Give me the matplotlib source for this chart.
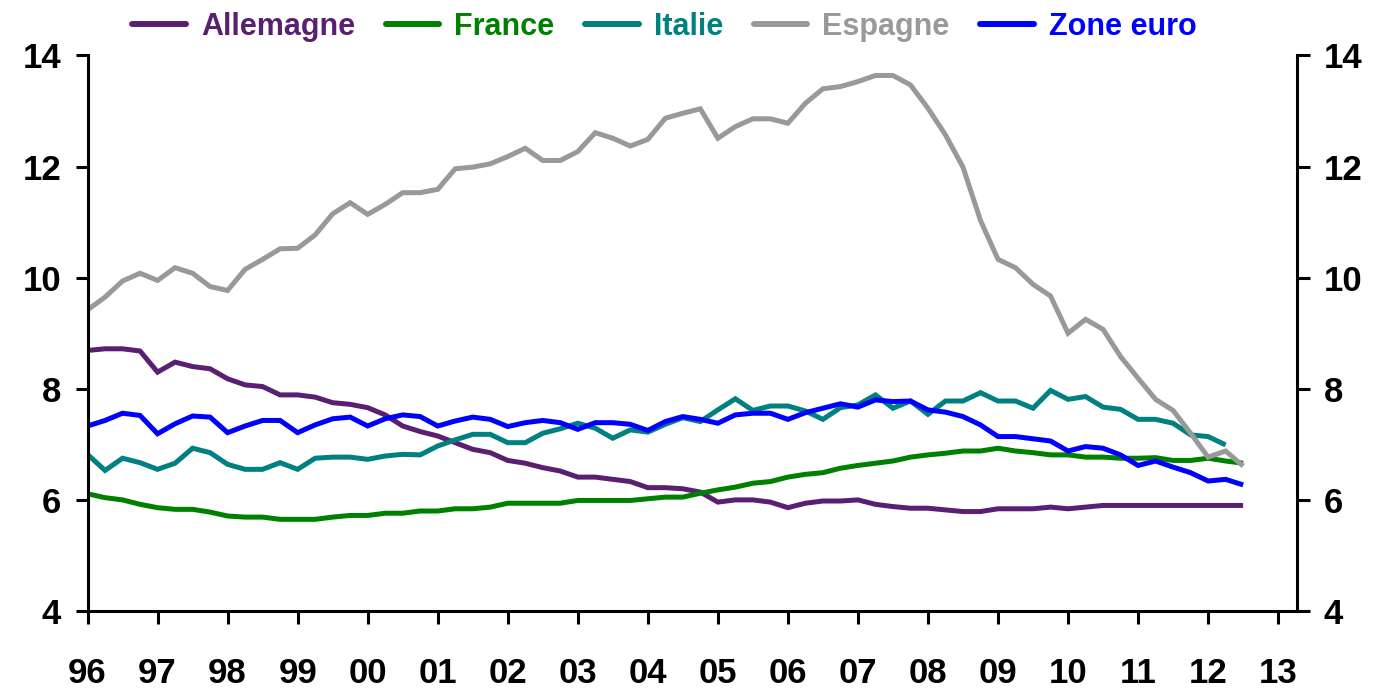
import numpy as np
import matplotlib
matplotlib.use("Agg")
import matplotlib.pyplot as plt

# ---- data (quarterly, starting 1996 Q1) ----
start_year = 1996
allemagne = [8.69, 8.72, 8.72, 8.68, 8.30, 8.48, 8.40, 8.36, 8.18, 8.07,
             8.04, 7.89, 7.89, 7.85, 7.75, 7.72, 7.66, 7.53, 7.33, 7.23,
             7.15, 7.03, 6.91, 6.85, 6.71, 6.66, 6.58, 6.52, 6.41, 6.41,
             6.37, 6.33, 6.22, 6.22, 6.20, 6.14, 5.96, 6.00, 6.00, 5.96,
             5.86, 5.94, 5.98, 5.98, 6.00, 5.92, 5.88, 5.85, 5.85, 5.82,
             5.79, 5.79, 5.84, 5.84, 5.84, 5.87, 5.84, 5.87, 5.90, 5.90,
             5.90, 5.90, 5.90, 5.90, 5.90, 5.90, 5.90]
france = [6.11, 6.04, 6.00, 5.92, 5.86, 5.83, 5.83, 5.78, 5.71, 5.69,
          5.69, 5.65, 5.65, 5.65, 5.69, 5.72, 5.72, 5.76, 5.76, 5.80,
          5.80, 5.84, 5.84, 5.87, 5.94, 5.94, 5.94, 5.94, 5.99, 5.99,
          5.99, 5.99, 6.02, 6.05, 6.05, 6.12, 6.18, 6.23, 6.30, 6.33,
          6.41, 6.46, 6.49, 6.57, 6.62, 6.66, 6.70, 6.77, 6.81, 6.84,
          6.88, 6.88, 6.93, 6.88, 6.85, 6.81, 6.81, 6.77, 6.77, 6.75,
          6.75, 6.76, 6.71, 6.71, 6.75, 6.70, 6.66]
italie = [6.82, 6.53, 6.75, 6.67, 6.55, 6.66, 6.93, 6.85, 6.64, 6.55,
          6.55, 6.67, 6.55, 6.75, 6.77, 6.77, 6.73, 6.79, 6.82, 6.81,
          6.97, 7.08, 7.18, 7.18, 7.03, 7.03, 7.20, 7.28, 7.38, 7.29,
          7.11, 7.26, 7.22, 7.36, 7.48, 7.41, 7.62, 7.82, 7.61, 7.69,
          7.69, 7.60, 7.45, 7.66, 7.71, 7.89, 7.65, 7.78, 7.54, 7.78,
          7.78, 7.93, 7.78, 7.78, 7.65, 7.97, 7.81, 7.86, 7.67, 7.63,
          7.45, 7.45, 7.38, 7.17, 7.14, 6.99]
espagne = [9.42, 9.65, 9.94, 10.08, 9.95, 10.18, 10.08, 9.84, 9.77, 10.15,
           10.33, 10.52, 10.53, 10.77, 11.15, 11.35, 11.14, 11.32, 11.53, 11.53,
           11.59, 11.96, 11.99, 12.05, 12.18, 12.33, 12.11, 12.11, 12.27, 12.61,
           12.51, 12.37, 12.49, 12.87, 12.96, 13.04, 12.51, 12.72, 12.86, 12.86,
           12.78, 13.14, 13.40, 13.44, 13.53, 13.64, 13.64, 13.47, 13.05, 12.57,
           11.99, 11.03, 10.33, 10.18, 9.88, 9.67, 9.00, 9.25, 9.07, 8.58,
           8.19, 7.81, 7.61, 7.20, 6.77, 6.88, 6.61]
zone_euro = [7.33, 7.43, 7.56, 7.52, 7.19, 7.37, 7.51, 7.49, 7.21, 7.33,
             7.43, 7.43, 7.21, 7.35, 7.46, 7.49, 7.33, 7.46, 7.53, 7.50,
             7.33, 7.42, 7.49, 7.45, 7.32, 7.39, 7.43, 7.39, 7.27, 7.39,
             7.39, 7.36, 7.25, 7.41, 7.50, 7.45, 7.38, 7.53, 7.56, 7.56,
             7.45, 7.57, 7.65, 7.73, 7.67, 7.80, 7.77, 7.78, 7.62, 7.58,
             7.50, 7.35, 7.14, 7.14, 7.10, 7.06, 6.88, 6.96, 6.93, 6.81,
             6.62, 6.70, 6.59, 6.49, 6.34, 6.37, 6.27]

series_names = ["Allemagne", "France", "Italie", "Espagne", "Zone euro"]
series_values = [allemagne, france, italie, espagne, zone_euro]
series_colors = ["#5B1F71", "#008000", "#008080", "#999999", "#0000FF"]

year_ticks = list(range(1996, 2014))
year_labels = [f"{y % 100:02d}" for y in year_ticks]
y_ticks = [4, 6, 8, 10, 12, 14]

# ---- figure ----
plt.rcParams['font.family'] = ['Liberation Sans', 'DejaVu Sans']
plt.rcParams['font.weight'] = 'bold'

fig = plt.figure(figsize=(13.74, 6.90), dpi=100)
ax = fig.add_axes([0.0637, 0.1145, 0.9440 - 0.0637, 0.9196 - 0.1145])

handles = []
for name, vals, col in zip(series_names, series_values, series_colors):
    x = start_year + 0.25 * np.arange(len(vals))
    h, = ax.plot(x, vals, color=col, lw=3.6, solid_joinstyle='miter',
                 solid_capstyle='butt', label=name)
    handles.append(h)

ax.set_xlim(1996, 2013.27)
ax.set_ylim(4, 14)
ax.set_xticks(year_ticks)
ax.set_xticklabels(year_labels)
ax.set_yticks(y_ticks)
ax.set_yticklabels([str(v) for v in y_ticks])

ax.spines['top'].set_visible(False)
for side in ['left', 'right', 'bottom']:
    ax.spines[side].set_linewidth(2.2)
    ax.spines[side].set_color('black')

ax.tick_params(axis='x', direction='out', length=9, width=2.2, pad=24,
               labelsize=25)
ax.tick_params(axis='y', direction='out', length=9, width=2.2, pad=10,
               labelsize=25, left=True, right=True,
               labelleft=True, labelright=True)
for lab in ax.get_xticklabels() + ax.get_yticklabels():
    lab.set_fontweight('bold')

leg = fig.legend(handles=handles, loc='center', ncol=5,
                 bbox_to_anchor=(664.5 / 1374, 1 - 27 / 690),
                 frameon=False, handlelength=1.75,
                 handletextpad=0.5, columnspacing=1.0,
                 prop={'weight': 'bold', 'size': 22})
for txt, col in zip(leg.get_texts(), series_colors):
    txt.set_color(col)
for lh in leg.get_lines():
    lh.set_linewidth(4.3)
    lh.set_solid_capstyle('round')

fig.savefig("out.png", dpi=100)
